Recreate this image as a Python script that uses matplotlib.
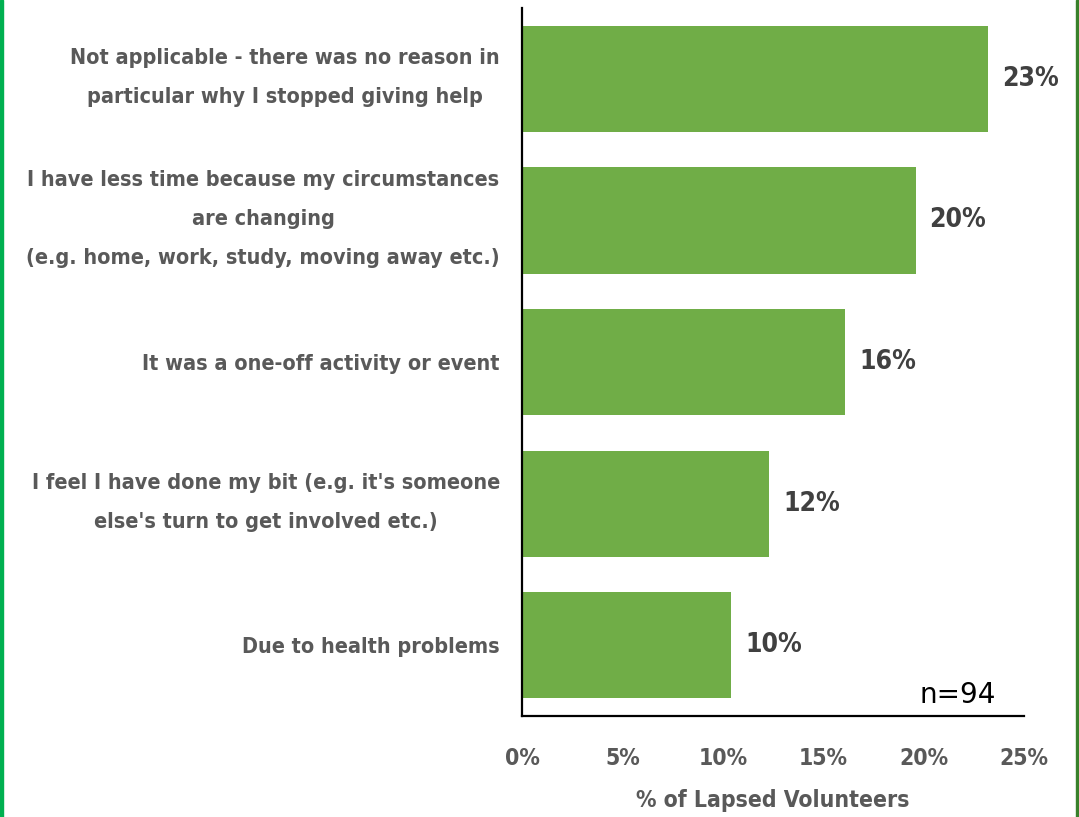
import matplotlib.pyplot as plt
import matplotlib.transforms as mtransforms
from matplotlib.patches import Rectangle

# --- Data ---
categories = [
    "Not applicable - there was no reason in\nparticular why I stopped giving help",
    "I have less time because my circumstances\nare changing\n(e.g. home, work, study, moving away etc.)",
    "It was a one-off activity or event",
    "I feel I have done my bit (e.g. it's someone\nelse's turn to get involved etc.)",
    "Due to health problems",
]
values = [23.2, 19.6, 16.1, 12.3, 10.4]
value_labels = ["23%", "20%", "16%", "12%", "10%"]
xticks = [0, 5, 10, 15, 20, 25]
xtick_labels = ["0%", "5%", "10%", "15%", "20%", "25%"]

plt.rcParams['font.family'] = ['DejaVu Sans']
plt.rcParams['font.stretch'] = 'condensed'

fig = plt.figure(figsize=(10.79, 8.17), dpi=100)
ax = fig.add_axes([0.4838, 0.1236, 0.4652, 0.8666])

y = list(range(len(categories)))
ax.barh(y, values, height=0.75, color='#70AD47')

# value labels at the bar ends
for yi, v, lab in zip(y, values, value_labels):
    ax.text(v + 0.7, yi, lab, va='center', ha='left', fontsize=19,
            fontweight='bold', color='#404040')

ax.set_ylim(4.5, -0.5)
ax.set_xlim(0, 25)
ax.set_yticks(y)
ax.set_yticklabels(categories, fontsize=15.5, fontweight='bold', color='#595959',
                   multialignment='center', linespacing=2.2)
ax.set_xticks(xticks)
ax.set_xticklabels(xtick_labels, fontsize=16.5, fontweight='bold', color='#595959')
ax.tick_params(axis='both', length=0)
ax.tick_params(axis='y', pad=16)
ax.tick_params(axis='x', pad=22)
ax.set_xlabel('% of Lapsed Volunteers', fontsize=16.5, fontweight='bold',
              color='#595959', labelpad=14)

# multi-line labels sit too low with the wide line spacing, nudge them up
shift = mtransforms.ScaledTranslation(0, 0.13, fig.dpi_scale_trans)
for lbl in ax.get_yticklabels():
    if '\n' in lbl.get_text():
        lbl.set_transform(lbl.get_transform() + shift)

for s in ['top', 'right']:
    ax.spines[s].set_visible(False)
ax.spines['left'].set_linewidth(1.6)
ax.spines['bottom'].set_linewidth(1.6)

ax.text(23.6, 4.35, 'n=94', ha='right', va='center', fontsize=20, color='black',
        fontstretch='normal')

# coloured frame edges
fig.patches.append(Rectangle((0, 0), 0.003, 1, transform=fig.transFigure,
                             color='#00B050', zorder=5))
fig.patches.append(Rectangle((0.9975, 0), 0.0025, 1, transform=fig.transFigure,
                             color='#38802A', zorder=5))

fig.savefig('out.png', dpi=100)
